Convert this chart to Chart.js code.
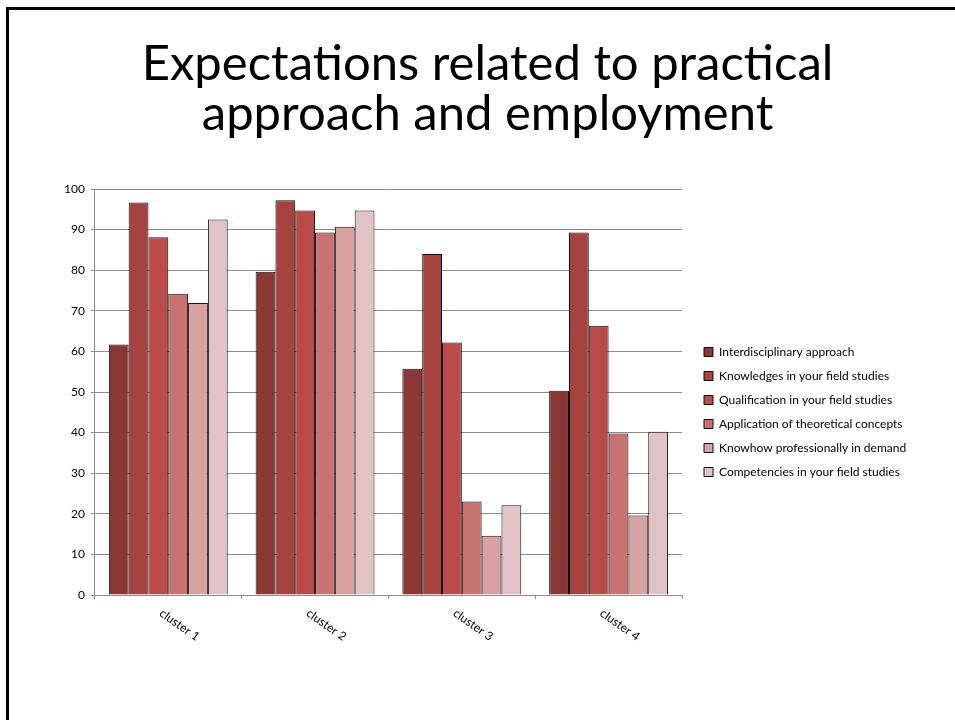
<!DOCTYPE html>
<html>
<head>
<meta charset="utf-8">
<script src="https://cdn.jsdelivr.net/npm/chart.js@4"></script>
<style>
  body { margin:0; background:#fff; width:955px; height:720px; overflow:hidden; position:relative; font-family:Lato, sans-serif; }
  .frame { position:absolute; left:6px; top:7px; width:1000px; height:800px; border-left:3px solid #000; border-top:3px solid #000; }
  .title { position:absolute; left:0; top:36px; width:975px; text-align:center; font-size:49px; line-height:50px; color:#000; }
  .box { position:absolute; left:0; top:170px; width:955px; height:500px; }
</style>
</head>
<body>
<div class="frame"></div>
<div class="title">Expectations related to practical<br>approach and employment</div>
<div class="box"><canvas id="chart"></canvas></div>
<script>
// DATA
const clusters = ['cluster 1', 'cluster 2', 'cluster 3', 'cluster 4'];
const seriesNames = [
    'Interdisciplinary approach',
    'Knowledges in your field studies',
    'Qualification in your field studies',
    'Application of theoretical concepts',
    'Knowhow professionally in demand',
    'Competencies in your field studies'
];
const interdisciplinary = [61.7, 79.6, 55.7, 50.3];
const knowledges = [96.7, 97.2, 84.0, 89.3];
const qualification = [88.1, 94.7, 62.2, 66.3];
const application = [74.2, 89.3, 23.0, 39.8];
const knowhow = [71.9, 90.7, 14.6, 19.6];
const competencies = [92.5, 94.7, 22.1, 40.2];
const yTicks = [0, 10, 20, 30, 40, 50, 60, 70, 80, 90, 100];

const colors = ['#8b3735', '#a54341', '#b94c4a', '#c87372', '#d8a2a2', '#e2c3c5'];
const values = [interdisciplinary, knowledges, qualification, application, knowhow, competencies];

// rotated category labels (going down to the right)
const slantLabels = {
    id: 'slantLabels',
    afterDraw(chart) {
        const x = chart.scales.x;
        const c = chart.ctx;
        c.save();
        c.font = '12px Lato';
        c.fillStyle = '#000';
        c.textBaseline = 'top';
        clusters.forEach((lab, i) => {
            const px = x.getPixelForTick(i);
            c.save();
            c.translate(px - 4, x.bottom + 8);
            c.rotate(35 * Math.PI / 180);
            c.fillText(lab, 0, 0);
            c.restore();
        });
        c.restore();
    }
};

// nudge legend away from plot and a bit lower
const legendShift = {
    id: 'legendShift',
    afterLayout(chart) {
        const lg = chart.legend;
        lg.left += 10;
        lg.right += 40;
        lg.top += 18;
        lg.bottom += 18;
    }
};

new Chart(document.getElementById('chart'), {
    type: 'bar',
    data: {
        labels: clusters,
        datasets: values.map((v, i) => ({
            label: seriesNames[i],
            data: v,
            backgroundColor: colors[i],
            borderColor: '#111',
            borderWidth: 1,
            borderSkipped: 'bottom',
            categoryPercentage: 0.81,
            barPercentage: 1
        }))
    },
    options: {
        responsive: true,
        maintainAspectRatio: false,
        animation: false,
        layout: { padding: { left: 58, right: 65, top: 19, bottom: 71 } },
        plugins: {
            tooltip: { enabled: false },
            legend: {
                position: 'right',
                labels: {
                    boxWidth: 9,
                    boxHeight: 9,
                    padding: 12,
                    color: '#000',
                    font: { family: 'Lato', size: 12 }
                }
            }
        },
        scales: {
            y: {
                min: 0,
                max: 100,
                afterBuildTicks: (s) => { s.ticks = yTicks.map(v => ({ value: v })); },
                ticks: { color: '#000', font: { family: 'Lato', size: 12 }, padding: 6 },
                grid: { color: '#8c8c8c', tickLength: 4, drawTicks: true },
                border: { color: '#8c8c8c' }
            },
            x: {
                ticks: { display: false },
                grid: { offset: true, drawOnChartArea: false, tickLength: 4, color: '#8c8c8c' },
                border: { color: '#8c8c8c' }
            }
        }
    },
    plugins: [slantLabels, legendShift]
});
</script>
</body>
</html>
